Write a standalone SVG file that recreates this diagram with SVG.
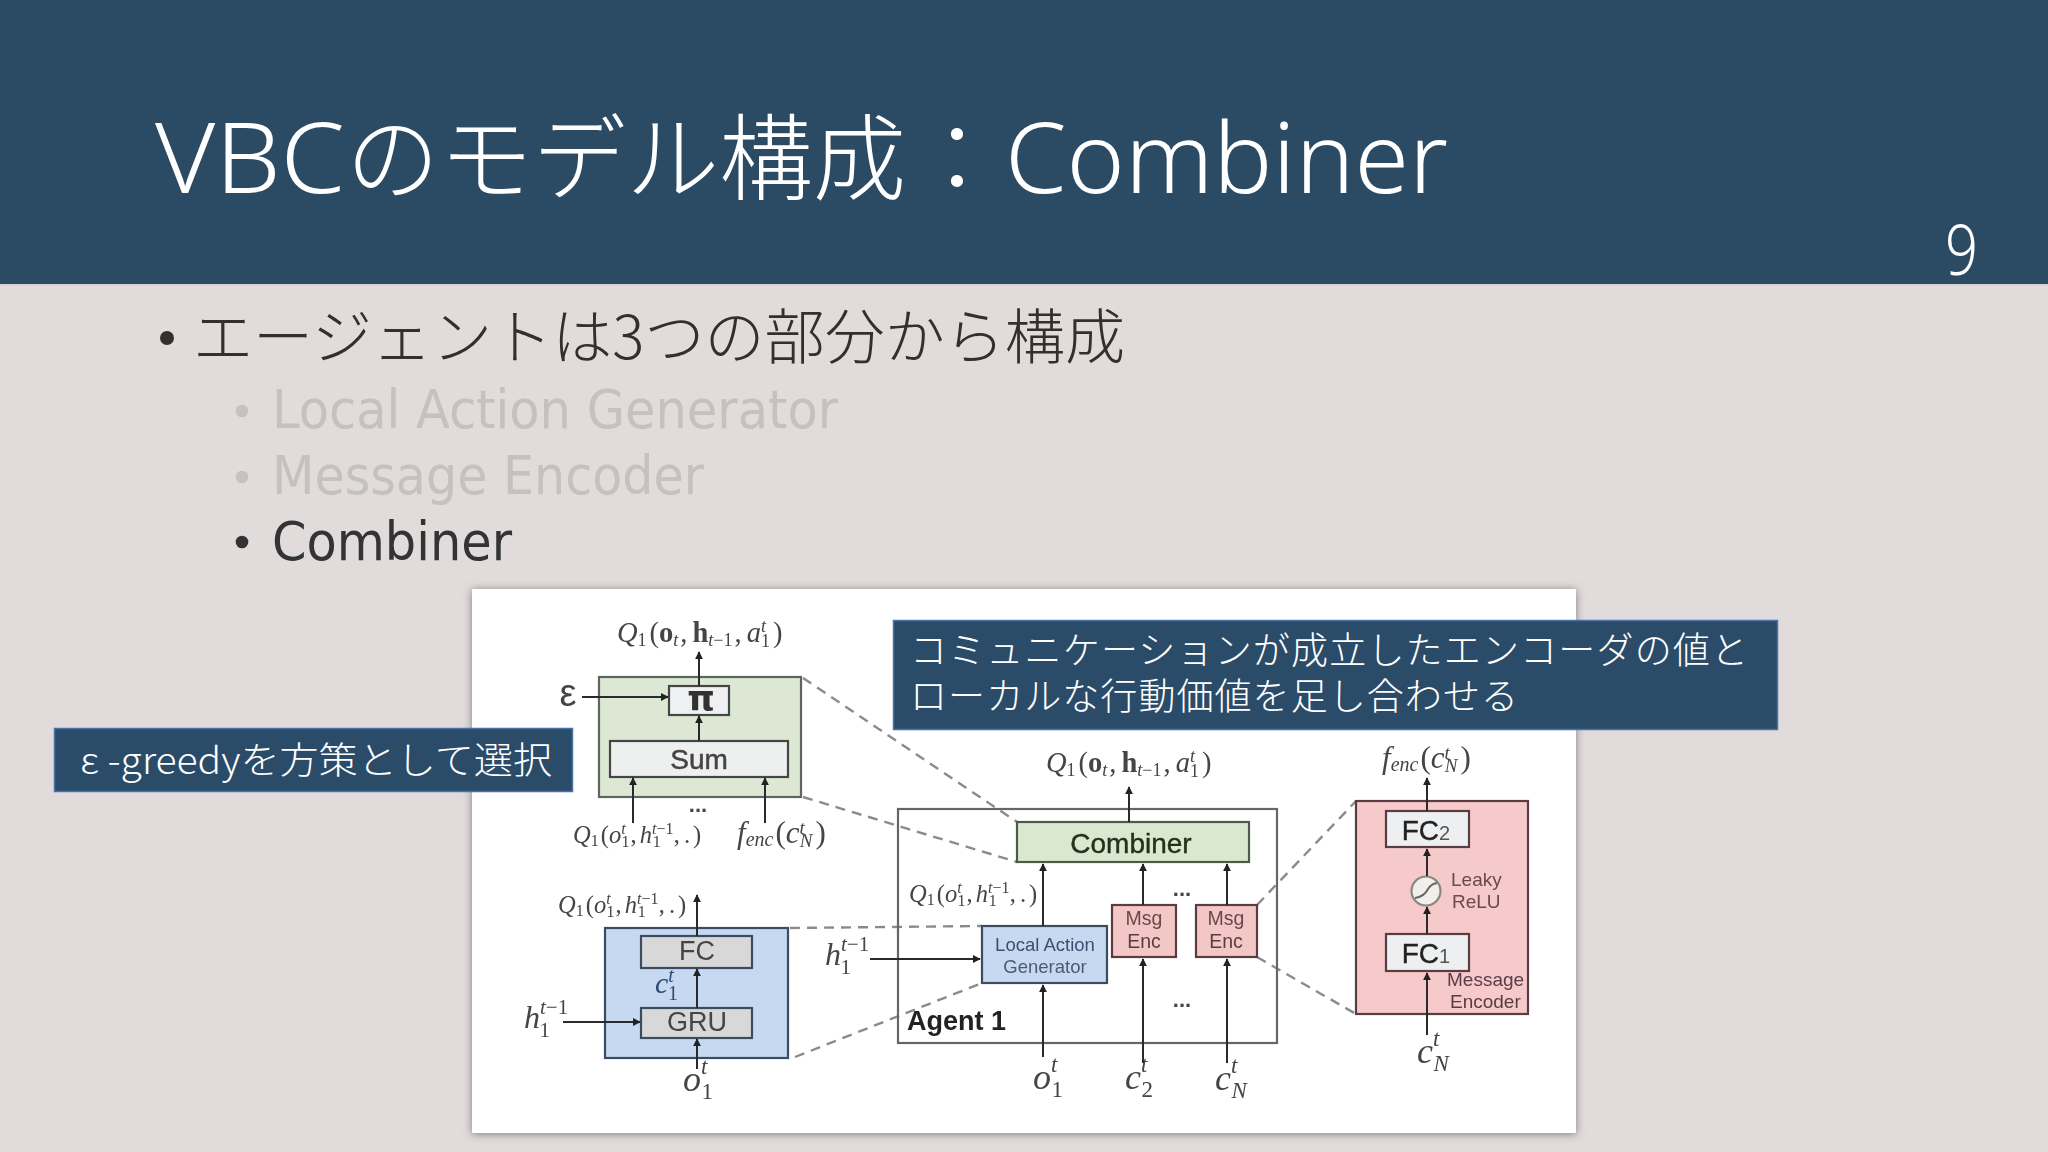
<svg xmlns="http://www.w3.org/2000/svg" width="2048" height="1152" viewBox="0 0 2048 1152">
<defs>
<marker id="ah" viewBox="0 0 10 10" refX="9" refY="5" markerWidth="8" markerHeight="8" orient="auto" markerUnits="userSpaceOnUse"><path d="M0 0L10 5L0 10Z" fill="#222"/></marker>
<filter id="soft" x="-2%" y="-2%" width="104%" height="104%"><feGaussianBlur stdDeviation="0.7"/></filter>
<filter id="shadow" x="-3%" y="-3%" width="106%" height="106%"><feDropShadow dx="0" dy="1" stdDeviation="4" flood-color="#6f6d6b" flood-opacity="0.85"/></filter>
</defs>
<style>
text{font-family:"Noto Sans","Noto Sans CJK JP",sans-serif}
.cjk{font-family:"Noto Sans CJK JP","Noto Sans",sans-serif;font-weight:300}
.title{font-size:94px;fill:#fff;font-weight:300}
.lat{font-family:"Noto Sans",sans-serif;font-size:98px;font-weight:300}
.l1{font-size:60px;fill:#332f2d;font-weight:300}
.l2{font-size:53px;font-family:"DejaVu Sans","Noto Sans",sans-serif}
.dim{fill:#c4c1c0}
.on{fill:#333}
.call{font-size:37px;fill:#fff}
.cb{fill:#2b4c69;stroke:#4a72a8;stroke-width:1.5}
.s1{font-family:"Liberation Sans",sans-serif;fill:#444;text-anchor:middle}
.m,.m tspan{font-family:"Liberation Serif",serif}
.m{fill:#444}
.i{font-style:italic}
.b{font-weight:bold}
.box{stroke-width:2.2}
.conn line{stroke:#2a2a2a;stroke-width:2;marker-end:url(#ah)}
.dash line{stroke:#8b8b8b;stroke-width:2.4;stroke-dasharray:10 7;marker-end:none}
</style>
<rect width="2048" height="1152" fill="#e1dbdb"/>
<rect width="2048" height="284" fill="#2b4a64"/>
<rect y="284" width="2048" height="2" fill="#d6d4d2"/>
<text class="title cjk" y="193"><tspan class="lat" x="155" textLength="190" lengthAdjust="spacingAndGlyphs">VBC</tspan><tspan x="346" textLength="560" lengthAdjust="spacingAndGlyphs">のモデル構成</tspan><tspan x="910" textLength="94" lengthAdjust="spacingAndGlyphs">：</tspan><tspan class="lat" x="1005" textLength="443" lengthAdjust="spacingAndGlyphs">Combiner</tspan></text>
<text x="1945" y="275" font-size="70" fill="#fff" font-weight="300" textLength="33" lengthAdjust="spacingAndGlyphs">9</text>
<circle cx="167" cy="338" r="7" fill="#332f2d"/>
<text class="l1 cjk" x="193" y="359" textLength="932" lengthAdjust="spacingAndGlyphs">エージェントは3つの部分から構成</text>
<circle cx="242" cy="411" r="6.3" fill="#c4c1c0"/>
<text class="l2 dim" x="272" y="428" textLength="566" lengthAdjust="spacingAndGlyphs">Local Action Generator</text>
<circle cx="242" cy="477" r="6.3" fill="#c4c1c0"/>
<text class="l2 dim" x="272" y="494" textLength="432" lengthAdjust="spacingAndGlyphs">Message Encoder</text>
<circle cx="242" cy="542" r="6.3" fill="#333"/>
<text class="l2 on" x="272" y="560" textLength="240" lengthAdjust="spacingAndGlyphs">Combiner</text>

<rect id="card" x="472" y="589" width="1104" height="544" fill="#fff" filter="url(#shadow)"/>

<g filter="url(#soft)">
<g id="connectors" class="conn">
<g class="dash">
<line x1="803" y1="678" x2="1017" y2="822"/>
<line x1="803" y1="797" x2="1017" y2="862"/>
<line x1="790" y1="928" x2="982" y2="926"/>
<line x1="795" y1="1057" x2="982" y2="983"/>
<line x1="1257" y1="905" x2="1356" y2="801"/>
<line x1="1257" y1="957" x2="1356" y2="1014"/>
</g>
</g>

<g id="combiner-detail">
<rect class="box" x="599" y="677" width="202" height="120" fill="#dde8d4" stroke="#5c665a"/>
<rect class="box" x="669" y="686" width="60" height="29" fill="#eef0f2" stroke="#444"/>
<text x="701" y="711" font-size="35" text-anchor="middle" fill="#333" style="font-family:'DejaVu Sans',sans-serif;font-weight:bold">π</text>
<rect class="box" x="610" y="741" width="178" height="36" fill="#eef0f0" stroke="#444"/>
<text class="s1" x="699" y="769" font-size="28" stroke="#444" stroke-width="0.5">Sum</text>
</g>
<g id="epsilon"><text class="s1" x="568" y="706" font-size="38">ε</text></g>
<g id="label-q-top-left"><text class="m" x="617" y="642" font-size="28.500"><tspan class="i">Q</tspan><tspan font-size="18" dy="4">1</tspan><tspan dy="-4" dx="3">(</tspan><tspan class="b">o</tspan><tspan class="i" font-size="18" dy="4">t</tspan><tspan dy="-4" dx="2">,</tspan><tspan class="b" dx="5">h</tspan><tspan class="i" font-size="18" dy="4">t</tspan><tspan font-size="18">−1</tspan><tspan dy="-4" dx="2">,</tspan><tspan class="i" dx="5">a</tspan><tspan class="i" font-size="18" dy="-10">t</tspan><tspan font-size="18" dx="-5" dy="15">1</tspan><tspan dy="-5" dx="3">)</tspan></text></g>
<g id="label-q-sum"><text class="m" x="573" y="843" font-size="24.500"><tspan class="i">Q</tspan><tspan font-size="16" dy="3">1</tspan><tspan dy="-3" dx="2">(</tspan><tspan class="i">o</tspan><tspan class="i" font-size="16" dy="-9">t</tspan><tspan font-size="16" dx="-4" dy="13">1</tspan><tspan dy="-4" dx="1">,</tspan><tspan class="i" dx="3">h</tspan><tspan class="i" font-size="16" dy="-9">t</tspan><tspan font-size="16">−1</tspan><tspan font-size="16" dx="-20" dy="13">1</tspan><tspan dy="-4" dx="13">,</tspan><tspan dx="4">.</tspan><tspan dx="3">)</tspan></text></g>
<g id="label-fenc-sum"><text class="m" x="737" y="843" font-size="31"><tspan class="i">f</tspan><tspan class="i" font-size="20" dy="3">enc</tspan><tspan dy="-3" dx="2">(</tspan><tspan class="i">c</tspan><tspan class="i" font-size="19" dy="-9">t</tspan><tspan class="i" font-size="19" dx="-5" dy="13">N</tspan><tspan dy="-4" dx="3">)</tspan></text></g>
<g id="dots-a"><text class="s1" x="698" y="812" font-size="22" font-weight="bold">...</text></g>

<g id="local-action-detail">
<rect class="box" x="605" y="928" width="183" height="130" fill="#c6d9f1" stroke="#3a4c62"/>
<rect class="box" x="641" y="936" width="111" height="32" fill="#d8d8d8" stroke="#3a4c62"/>
<text class="s1" x="697" y="960" font-size="27" fill="#555">FC</text>
<rect class="box" x="641" y="1008" width="111" height="30" fill="#d8d8d8" stroke="#3a4c62"/>
<text class="s1" x="697" y="1031" font-size="27" fill="#555">GRU</text>
<text class="m" x="655" y="993" font-size="30" style="fill:#2e4a78"><tspan class="i">c</tspan><tspan class="i" font-size="20" dy="-11">t</tspan><tspan font-size="20" dx="-6" dy="18">1</tspan></text>
</g>
<g id="label-q-fc"><text class="m" x="558" y="913" font-size="24.500"><tspan class="i">Q</tspan><tspan font-size="16" dy="3">1</tspan><tspan dy="-3" dx="2">(</tspan><tspan class="i">o</tspan><tspan class="i" font-size="16" dy="-9">t</tspan><tspan font-size="16" dx="-4" dy="13">1</tspan><tspan dy="-4" dx="1">,</tspan><tspan class="i" dx="3">h</tspan><tspan class="i" font-size="16" dy="-9">t</tspan><tspan font-size="16">−1</tspan><tspan font-size="16" dx="-20" dy="13">1</tspan><tspan dy="-4" dx="13">,</tspan><tspan dx="4">.</tspan><tspan dx="3">)</tspan></text></g>
<g id="label-h-left"><text class="m" x="524" y="1028" font-size="32"><tspan class="i">h</tspan><tspan class="i" font-size="21" dy="-14">t</tspan><tspan font-size="21">−1</tspan><tspan font-size="21" dx="-28" dy="23">1</tspan></text></g>
<g id="label-o-left"><text class="m" x="683" y="1091" font-size="36"><tspan class="i">o</tspan><tspan class="i" font-size="23" dy="-17">t</tspan><tspan font-size="23" dx="-6" dy="25">1</tspan></text></g>

<g id="agent">
<rect class="box" x="898" y="809" width="379" height="234" fill="none" stroke="#666"/>
<text class="s1" x="907" y="1030" font-size="27" font-weight="bold" style="text-anchor:start;fill:#222">Agent 1</text>
</g>
<g id="combiner">
<rect class="box" x="1017" y="822" width="232" height="40" fill="#dae8cf" stroke="#4c5a4a"/>
<text class="s1" x="1131" y="853" font-size="28" style="fill:#22301f" stroke="#22301f" stroke-width="0.4">Combiner</text>
</g>
<g id="local-action">
<rect class="box" x="982" y="926" width="125" height="57" fill="#c6d9f1" stroke="#3a4c62"/>
<text class="s1" x="1045" y="951" font-size="18.500" style="fill:#3c4f70">Local Action</text>
<text class="s1" x="1045" y="973" font-size="18.500" style="fill:#4c5a70">Generator</text>
</g>
<g id="msg-enc-2">
<rect class="box" x="1112" y="905" width="64" height="52" fill="#f4c7c7" stroke="#5a3c40"/>
<text class="s1" x="1144" y="925" font-size="19.500" style="fill:#6a4a4a">Msg</text>
<text class="s1" x="1144" y="948" font-size="19.500" style="fill:#5a3c40">Enc</text>
</g>
<g id="msg-enc-n">
<rect class="box" x="1196" y="905" width="61" height="52" fill="#f4c7c7" stroke="#5a3c40"/>
<text class="s1" x="1226" y="925" font-size="19.500" style="fill:#6a4a4a">Msg</text>
<text class="s1" x="1226" y="948" font-size="19.500" style="fill:#5a3c40">Enc</text>
</g>
<g id="dots-b"><text class="s1" x="1182" y="896" font-size="22" font-weight="bold">...</text><text class="s1" x="1182" y="1007" font-size="22" font-weight="bold">...</text></g>
<g id="label-q-top-mid"><text class="m" x="1046" y="772" font-size="28.500"><tspan class="i">Q</tspan><tspan font-size="18" dy="4">1</tspan><tspan dy="-4" dx="3">(</tspan><tspan class="b">o</tspan><tspan class="i" font-size="18" dy="4">t</tspan><tspan dy="-4" dx="2">,</tspan><tspan class="b" dx="5">h</tspan><tspan class="i" font-size="18" dy="4">t</tspan><tspan font-size="18">−1</tspan><tspan dy="-4" dx="2">,</tspan><tspan class="i" dx="5">a</tspan><tspan class="i" font-size="18" dy="-10">t</tspan><tspan font-size="18" dx="-5" dy="15">1</tspan><tspan dy="-5" dx="3">)</tspan></text></g>
<g id="label-q-agent"><text class="m" x="909" y="902" font-size="24.500"><tspan class="i">Q</tspan><tspan font-size="16" dy="3">1</tspan><tspan dy="-3" dx="2">(</tspan><tspan class="i">o</tspan><tspan class="i" font-size="16" dy="-9">t</tspan><tspan font-size="16" dx="-4" dy="13">1</tspan><tspan dy="-4" dx="1">,</tspan><tspan class="i" dx="3">h</tspan><tspan class="i" font-size="16" dy="-9">t</tspan><tspan font-size="16">−1</tspan><tspan font-size="16" dx="-20" dy="13">1</tspan><tspan dy="-4" dx="13">,</tspan><tspan dx="4">.</tspan><tspan dx="3">)</tspan></text></g>
<g id="label-h-mid"><text class="m" x="825" y="965" font-size="32"><tspan class="i">h</tspan><tspan class="i" font-size="21" dy="-14">t</tspan><tspan font-size="21">−1</tspan><tspan font-size="21" dx="-28" dy="23">1</tspan></text></g>
<g id="label-o-mid"><text class="m" x="1033" y="1089" font-size="36"><tspan class="i">o</tspan><tspan class="i" font-size="23" dy="-17">t</tspan><tspan font-size="23" dx="-6" dy="25">1</tspan></text></g>
<g id="label-c2"><text class="m" x="1125" y="1089" font-size="36"><tspan class="i">c</tspan><tspan class="i" font-size="23" dy="-17">t</tspan><tspan font-size="23" dx="-6" dy="25">2</tspan></text></g>
<g id="label-cn"><text class="m" x="1215" y="1090" font-size="36"><tspan class="i">c</tspan><tspan class="i" font-size="23" dy="-17">t</tspan><tspan class="i" font-size="23" dx="-6" dy="25">N</tspan></text></g>

<g id="message-encoder">
<rect class="box" x="1356" y="801" width="172" height="213" fill="#f6c9cb" stroke="#5a3c40"/>
<rect class="box" x="1386" y="811" width="83" height="36" fill="#edeff0" stroke="#5a3c40"/>
<text class="s1" x="1426" y="840" font-size="28" style="fill:#222" stroke="#222" stroke-width="0.4">FC<tspan font-size="20" fill="#555" stroke="none">2</tspan></text>
<rect class="box" x="1386" y="934" width="83" height="37" fill="#edeff0" stroke="#5a3c40"/>
<text class="s1" x="1426" y="963" font-size="28" style="fill:#222" stroke="#222" stroke-width="0.4">FC<tspan font-size="20" fill="#555" stroke="none">1</tspan></text>
<circle cx="1426" cy="891" r="14.500" fill="#f1efe9" stroke="#8a8580" stroke-width="2.200"/>
<path d="M1415 898Q1424 897 1428 889Q1431 884 1437 883" fill="none" stroke="#666" stroke-width="2"/>
<text class="s1" x="1451" y="886" font-size="19" style="text-anchor:start;fill:#6a4a4a">Leaky</text>
<text class="s1" x="1452" y="908" font-size="19" style="text-anchor:start;fill:#6a4a4a">ReLU</text>
<text class="s1" x="1447" y="986" font-size="19" style="text-anchor:start;fill:#5a3c48">Message</text>
<text class="s1" x="1450" y="1008" font-size="19" style="text-anchor:start;fill:#5a3c40">Encoder</text>
</g>
<g id="label-fenc-right"><text class="m" x="1382" y="768" font-size="31"><tspan class="i">f</tspan><tspan class="i" font-size="20" dy="3">enc</tspan><tspan dy="-3" dx="2">(</tspan><tspan class="i">c</tspan><tspan class="i" font-size="19" dy="-9">t</tspan><tspan class="i" font-size="19" dx="-5" dy="13">N</tspan><tspan dy="-4" dx="3">)</tspan></text></g>
<g id="label-cn-right"><text class="m" x="1417" y="1063" font-size="36"><tspan class="i">c</tspan><tspan class="i" font-size="23" dy="-17">t</tspan><tspan class="i" font-size="23" dx="-6" dy="25">N</tspan></text></g>

<g class="conn" id="connectors-arrows">
<line x1="699" y1="686" x2="699" y2="652"/>
<line x1="582" y1="697" x2="668" y2="697"/>
<line x1="699" y1="741" x2="699" y2="716"/>
<line x1="633" y1="823" x2="633" y2="778"/>
<line x1="765" y1="823" x2="765" y2="778"/>
<line x1="697" y1="936" x2="697" y2="895"/>
<line x1="697" y1="1008" x2="697" y2="969"/>
<line x1="563" y1="1022" x2="640" y2="1022"/>
<line x1="697" y1="1069" x2="697" y2="1039"/>
<line x1="1129" y1="822" x2="1129" y2="787"/>
<line x1="1043" y1="926" x2="1043" y2="864"/>
<line x1="1143" y1="905" x2="1143" y2="864"/>
<line x1="1227" y1="905" x2="1227" y2="864"/>
<line x1="1043" y1="1057" x2="1043" y2="985"/>
<line x1="1143" y1="1063" x2="1143" y2="959"/>
<line x1="1227" y1="1063" x2="1227" y2="959"/>
<line x1="870" y1="959" x2="980" y2="959"/>
<line x1="1427" y1="811" x2="1427" y2="778"/>
<line x1="1427" y1="876" x2="1427" y2="849"/>
<line x1="1427" y1="934" x2="1427" y2="907"/>
<line x1="1427" y1="1035" x2="1427" y2="973"/>
</g>
</g>

<g id="callout-epsilon">
<rect class="cb" x="54.500" y="728.500" width="518" height="63"/>
<text class="call cjk" x="80" y="774" textLength="472" lengthAdjust="spacingAndGlyphs">ε -greedyを方策として選択</text>
</g>
<g id="callout-combine">
<rect class="cb" x="893.500" y="620.500" width="884" height="109"/>
<text class="call cjk" x="910" y="664" textLength="838" lengthAdjust="spacing">コミュニケーションが成立したエンコーダの値と</text>
<text class="call cjk" x="910" y="710" textLength="608" lengthAdjust="spacing">ローカルな行動価値を足し合わせる</text>
</g>
</svg>
